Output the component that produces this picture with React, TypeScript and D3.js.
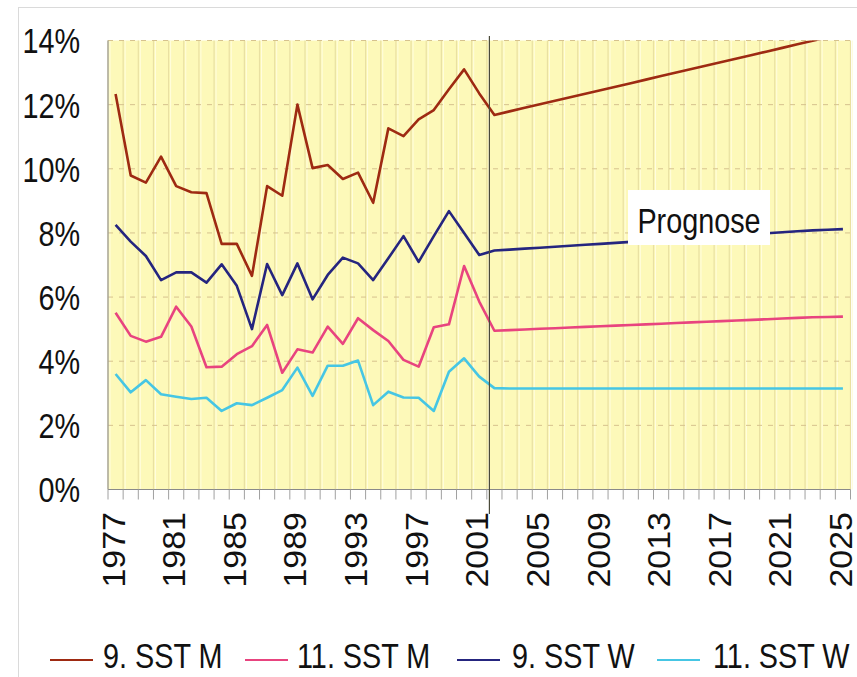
import React from "react";
import * as d3 from "d3";

const years = [
  1977, 1978, 1979, 1980, 1981, 1982, 1983, 1984, 1985, 1986, 1987, 1988, 1989,
  1990, 1991, 1992, 1993, 1994, 1995, 1996, 1997, 1998, 1999, 2000, 2001, 2002,
  2003, 2004, 2005, 2006, 2007, 2008, 2009, 2010, 2011, 2012, 2013, 2014, 2015,
  2016, 2017, 2018, 2019, 2020, 2021, 2022, 2023, 2024, 2025,
];
const tickYears = [1977, 1981, 1985, 1989, 1993, 1997, 2001, 2005, 2009, 2013, 2017, 2021, 2025];
const yTicks = [0, 2, 4, 6, 8, 10, 12, 14];
const forecastStart = 2002;

const sst9M = [
  12.33, 9.79, 9.57, 10.38, 9.46, 9.27, 9.24, 7.66, 7.66, 6.66, 9.46, 9.16, 12.0,
  10.02, 10.12, 9.68, 9.88, 8.94, 11.26, 11.02, 11.54, 11.83, 12.48, 13.1, 12.35, 11.68,
  11.79, 11.9, 12.01, 12.12, 12.23, 12.34, 12.45, 12.56, 12.67, 12.78, 12.89, 13.0, 13.11,
  13.22, 13.33, 13.44, 13.55, 13.66, 13.77, 13.88, 13.99, 14.1, 14.21,
];
const sst11M = [
  5.51, 4.79, 4.61, 4.76, 5.7, 5.08, 3.81, 3.83, 4.22, 4.47, 5.13, 3.64, 4.37,
  4.27, 5.08, 4.54, 5.34, 4.97, 4.63, 4.04, 3.83, 5.06, 5.15, 6.97, 5.86, 4.95,
  4.97, 4.99, 5.01, 5.03, 5.05, 5.07, 5.09, 5.11, 5.13, 5.15, 5.17, 5.19, 5.21,
  5.23, 5.25, 5.27, 5.29, 5.31, 5.33, 5.35, 5.37, 5.38, 5.39,
];
const sst9W = [
  8.25, 7.73, 7.28, 6.53, 6.77, 6.77, 6.45, 7.02, 6.35, 5.0, 7.03, 6.06, 7.05,
  5.93, 6.69, 7.23, 7.05, 6.53, 7.21, 7.9, 7.1, 7.9, 8.68, 8.0, 7.31, 7.45,
  7.48, 7.51, 7.54, 7.57, 7.6, 7.63, 7.66, 7.69, 7.72, 7.75, 7.78, 7.81, 7.84,
  7.87, 7.9, 7.93, 7.96, 7.99, 8.02, 8.05, 8.08, 8.1, 8.12,
];
const sst11W = [
  3.6, 3.03, 3.41, 2.97, 2.89, 2.82, 2.86, 2.45, 2.69, 2.63, 2.86, 3.1, 3.8,
  2.92, 3.86, 3.86, 4.02, 2.63, 3.05, 2.87, 2.86, 2.45, 3.67, 4.09, 3.52, 3.16,
  3.15, 3.15, 3.15, 3.15, 3.15, 3.15, 3.15, 3.15, 3.15, 3.15, 3.15, 3.15, 3.15,
  3.15, 3.15, 3.15, 3.15, 3.15, 3.15, 3.15, 3.15, 3.15, 3.15,
];

const seriesNames = ["9. SST M", "11. SST M", "9. SST W", "11. SST W"];
const seriesColors = ["#9e2a12", "#e8447f", "#25257f", "#46c6e4"];
const seriesValues = [sst9M, sst11M, sst9W, sst11W];
const drawOrder = [3, 1, 2, 0];

const W = 857;
const H = 677;
const PL = 108;
const PR = 850.5;
const PT = 40.5;
const PB = 489.5;
const FONT = "'Liberation Sans', Arial, sans-serif";
const NARROW = 0.8;

export default function App() {
  const x = d3.scaleBand<number>().domain(years).range([PL, PR]).padding(0);
  const y = d3.scaleLinear().domain([0, 14]).range([PB, PT]);
  const step = x.step();
  const cx = (yr: number) => (x(yr) as number) + x.bandwidth() / 2;
  const line = d3
    .line<number>()
    .x((_, i) => cx(years[i]))
    .y((d) => y(d));

  const boundaries = years.map((yr) => x(yr) as number).concat([PR]);
  const vLineX = cx(forecastStart) - step * 0.33;

  const legendLineX = [50, 245, 457, 657];
  const legendTextX = [103, 297, 512, 713];

  return (
    <svg
      width={W}
      height={H}
      style={{ position: "absolute", left: 0, top: 0, background: "#fff" }}
      fontFamily={FONT}
    >
      <defs>
        <clipPath id="plotClip">
          <rect x={PL} y={PT} width={PR - PL} height={PB - PT} />
        </clipPath>
      </defs>
      <rect x={18.5} y={7.5} width={900} height={700} fill="#fff" stroke="#dadada" />
      <rect x={PL} y={PT} width={PR - PL} height={PB - PT} fill="#fdf9b9" />
      {boundaries.map((bx, i) => (
        <g key={"vb" + i}>
          <line x1={bx} x2={bx} y1={PT} y2={PB} stroke="#e9e0a2" strokeWidth={1.2} />
          <line x1={bx + 2} x2={bx + 2} y1={PT} y2={PB} stroke="#fffde0" strokeWidth={1} />
        </g>
      ))}
      {yTicks.slice(1).map((t) => (
        <line
          key={"g" + t}
          x1={PL}
          x2={PR}
          y1={y(t)}
          y2={y(t)}
          stroke="#d6c28e"
          strokeWidth={1}
          strokeDasharray="5,6"
        />
      ))}
      <line x1={PL} x2={PL} y1={PT} y2={PB} stroke="#9a9a9a" strokeWidth={1.2} />
      <line x1={PL} x2={PR} y1={PB} y2={PB} stroke="#8a8a8a" strokeWidth={1.2} />
      {boundaries.map((bx, i) => (
        <line key={"xt" + i} x1={bx} x2={bx} y1={PB} y2={PB + 10} stroke="#a0a0a0" strokeWidth={1} />
      ))}
      {yTicks.map((t) => (
        <g key={"yl" + t} transform={`translate(80,${y(t)}) scale(${NARROW},1)`}>
          <text textAnchor="end" dy="0.36em" fontSize={36} fill="#111">
            {t + "%"}
          </text>
        </g>
      ))}
      {tickYears.map((yr) => (
        <g key={"xl" + yr} transform={`translate(${cx(yr) - 2},512) rotate(-90) scale(1,0.9)`}>
          <text textAnchor="end" dy="0.36em" fontSize={34} fill="#111">
            {String(yr)}
          </text>
        </g>
      ))}
      <g clipPath="url(#plotClip)">
        {drawOrder.map((si) => (
          <path
            key={"s" + si}
            d={line(seriesValues[si]) || ""}
            fill="none"
            stroke={seriesColors[si]}
            strokeWidth={2.6}
            strokeLinejoin="round"
          />
        ))}
      </g>
      <line x1={vLineX} x2={vLineX} y1={36} y2={514} stroke="#4a4a3a" strokeWidth={1.2} />
      <rect x={628} y={190} width={142} height={55} fill="#fff" />
      <g transform={`translate(699,233) scale(${NARROW},1)`}>
        <text textAnchor="middle" fontSize={36} fill="#111">
          Prognose
        </text>
      </g>
      {seriesNames.map((name, i) => (
        <g key={"lg" + i}>
          <line
            x1={legendLineX[i]}
            x2={legendLineX[i] + 43}
            y1={660}
            y2={660}
            stroke={seriesColors[i]}
            strokeWidth={2}
          />
          <g transform={`translate(${legendTextX[i]},668) scale(${NARROW},1)`}>
            <text fontSize={36} fill="#111">
              {name}
            </text>
          </g>
        </g>
      ))}
    </svg>
  );
}
